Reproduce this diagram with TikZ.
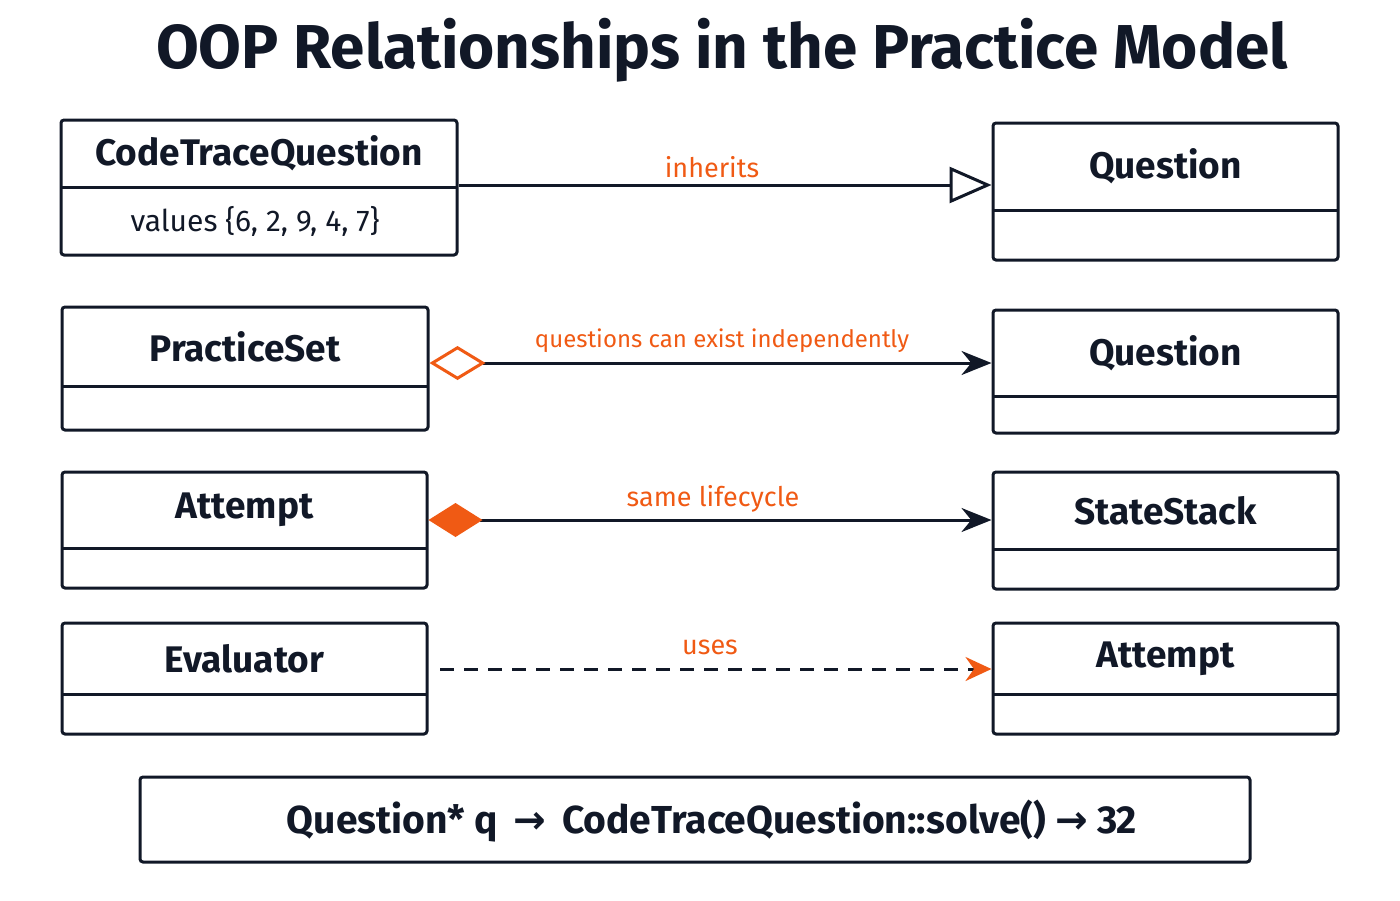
\documentclass[tikz,border=0pt]{standalone}
\usepackage{fontspec}
\setmainfont{Fira Sans}
\newfontfamily\arrfont{DejaVu Sans}
\usetikzlibrary{arrows.meta}
\definecolor{ink}{HTML}{111827}
\definecolor{org}{HTML}{F05A14}
\begin{document}
\begin{tikzpicture}[x=1pt,y=-1pt,line width=3pt,
  ttl/.style={font=\fontsize{37}{40}\selectfont\bfseries,text=ink},
  lab/.style={font=\fontsize{27}{30}\selectfont,text=org}]
\useasboundingbox (0,0) rectangle (1400,900);
\node[font=\fontsize{62}{66}\selectfont\bfseries,text=ink] (title) at (722,50) {OOP Relationships in the Practice Model};
\newcommand{\cls}[7]{%
  \draw[ink,rounded corners=3pt] (#2,#3) rectangle (#4,#5);
  \draw[ink] (#2,#6) -- (#4,#6);
  \node[ttl] (#1t) at ({(#2+#4)/2},{(#3+#6)/2}) {#7};
  \path (#2,#3) rectangle (#4,#5) node[pos=0.5,inner sep=0pt,minimum width={#4-#2},minimum height={#5-#3}] (#1b) {};}
\cls{cq}{61}{120}{457}{255}{187}{CodeTraceQuestion}
\node[font=\fontsize{30}{34}\selectfont,text=ink] (vals) at (255,221) {values \{6, 2, 9, 4, 7\}};
\cls{qa}{993}{123}{1338}{260}{210}{Question}
\cls{ps}{62}{307}{428}{430}{386}{PracticeSet}
\cls{qb}{993}{310}{1338}{433}{396}{Question}
\cls{at}{62}{472}{427}{588}{548}{Attempt}
\cls{ss}{993}{472}{1338}{589}{549}{StateStack}
\cls{ev}{62}{623}{427}{734}{694}{Evaluator}
\cls{atb}{993}{623}{1338}{734}{694}{Attempt}
\draw[ink,-{Triangle[open,length=42,width=36,line width=3pt]}] (cqb.east|-0,185) -- (qab.west|-0,185);
\node[lab] (l1) at (712,167) {inherits};
\draw[ink,{Diamond[open,length=56,width=34,color=org,line width=3pt]}-{Stealth[length=30,width=24]}] (psb.east|-0,363) -- (qbb.west|-0,363);
\node[lab,font=\fontsize{24}{28}\selectfont] (l2) at (722,341) {questions can exist independently};
\draw[ink,{Diamond[length=54,width=34,color=org,fill=org]}-{Stealth[length=30,width=24]}] (atb.east|-0,520) -- (ssb.west|-0,520);
\node[lab] (l3) at (713,499) {same lifecycle};
\draw[ink,dash pattern=on 14pt off 10pt,-{Stealth[length=26,width=24,color=org]}] (440,669) -- (atbb.west|-0,669);
\node[lab] (l4) at (710,647) {uses};
\draw[ink,rounded corners=3pt] (140,777) rectangle (1250,862);
\node[ttl,font=\fontsize{39}{42}\selectfont\bfseries] (code) at (712,821) {Question* q \,{\arrfont\bfseries →}\, CodeTraceQuestion::solve() {\arrfont\bfseries →} 32};
\end{tikzpicture}
\end{document}
